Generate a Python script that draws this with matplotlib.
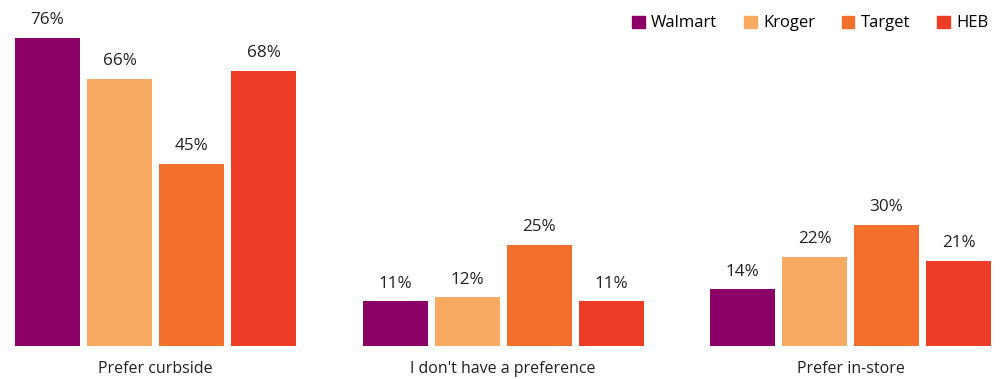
import matplotlib.pyplot as plt
import matplotlib.patches as mpatches
import numpy as np

# Data
categories = ["Prefer curbside", "I don't have a preference", "Prefer in-store"]
stores = ["Walmart", "Kroger", "Target", "HEB"]
walmart = [76, 11, 14]
kroger = [66, 12, 22]
target = [45, 25, 30]
heb = [68, 11, 21]
colors = ["#8B0066", "#F9AA62", "#F2702B", "#EE3D26"]

plt.rcParams['font.family'] = ['Open Sans', 'DejaVu Sans']

fig = plt.figure(figsize=(10, 3.79), dpi=100)
ax = fig.add_axes([0, 33 / 379, 1, 346 / 379])

x = np.arange(len(categories))
step = 72 / 347.5
width = 65 / 347.5

series = [walmart, kroger, target, heb]
for i, (vals, store, color) in enumerate(zip(series, stores, colors)):
    pos = x + (i - 1.5) * step
    bars = ax.bar(pos, vals, width=width, color=color, label=store)
    for b, v in zip(bars, vals):
        ax.text(b.get_x() + b.get_width() / 2, v + 2.4, f"{v}%",
                ha='center', va='bottom', fontsize=12.3, color='#222222')

ax.set_xlim(-155.5 / 347.5, (1000 - 155.5) / 347.5)
ax.set_ylim(0, 346 / 4.05)
ax.axis('off')

for xi, cat in zip(x, categories):
    ax.text(xi, -5.6, cat, ha='center', va='center', fontsize=11.5, color='#222222')

handles = [mpatches.Patch(color=c, label=s) for s, c in zip(stores, colors)]
fig.legend(handles=handles, loc='upper right', bbox_to_anchor=(1.0, 0.99), ncol=4,
           frameon=False, fontsize=12, handlelength=0.75, handleheight=0.75,
           handletextpad=0.4, columnspacing=1.6, borderaxespad=0.3)

fig.savefig("out.png", dpi=100)
